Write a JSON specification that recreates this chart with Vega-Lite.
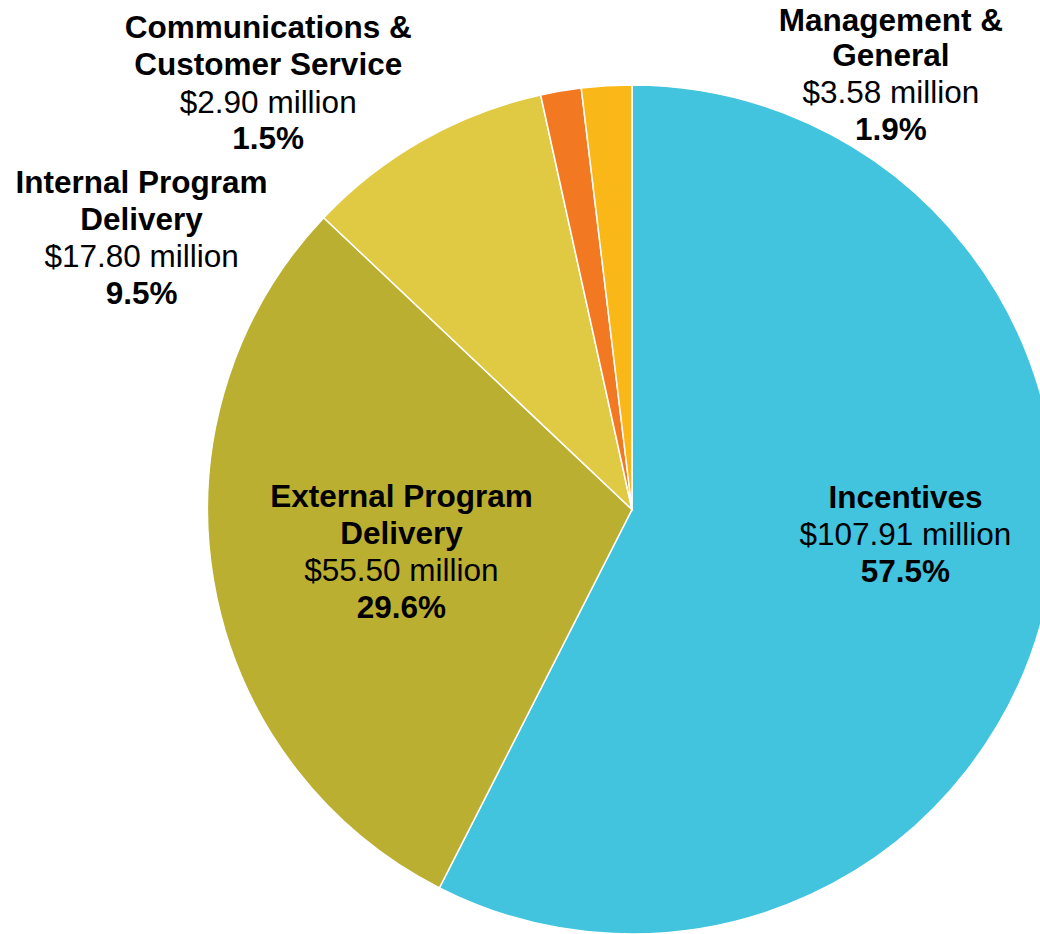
{
  "$schema": "https://vega.github.io/schema/vega-lite/v6.json",
  "autosize": "none",
  "padding": {"left": 224, "top": 85, "right": 0, "bottom": 0},
  "width": 816,
  "height": 849,
  "background": "white",
  "data": {
    "values": [
      {"category": "Incentives", "name": ["Incentives"], "amount": "$107.91 million", "pct": "57.5%", "value": 107.91, "order": 1},
      {"category": "External Program Delivery", "name": ["External Program", "Delivery"], "amount": "$55.50 million", "pct": "29.6%", "value": 55.50, "order": 2},
      {"category": "Internal Program Delivery", "name": ["Internal Program", "Delivery"], "amount": "$17.80 million", "pct": "9.5%", "value": 17.80, "order": 3},
      {"category": "Communications & Customer Service", "name": ["Communications &", "Customer Service"], "amount": "$2.90 million", "pct": "1.5%", "value": 2.90, "order": 4},
      {"category": "Management & General", "name": ["Management &", "General"], "amount": "$3.58 million", "pct": "1.9%", "value": 3.58, "order": 5}
    ]
  },
  "encoding": {
    "theta": {"field": "value", "type": "quantitative", "stack": true},
    "order": {"field": "order", "type": "quantitative", "sort": "ascending"}
  },
  "layer": [
    {
      "mark": {"type": "arc", "outerRadius": 424.5, "stroke": "white", "strokeWidth": 1.5},
      "encoding": {
        "color": {
          "field": "category", "type": "nominal", "legend": null,
          "scale": {
            "domain": ["Incentives", "External Program Delivery", "Internal Program Delivery", "Communications & Customer Service", "Management & General"],
            "range": ["#42C4DE", "#BBAF31", "#E1CA43", "#F37822", "#FAB718"]
          }
        }
      }
    },
    {"mark": {"type": "text", "radius": 275, "dx": 6, "dy": -66, "fontWeight": "bold"},
     "encoding": {"text": {"condition": {"test": "datum.category === 'Incentives'", "field": "name"}, "value": ""}}},
    {"mark": {"type": "text", "radius": 275, "dx": 6, "dy": -29},
     "encoding": {"text": {"condition": {"test": "datum.category === 'Incentives'", "field": "amount"}, "value": ""}}},
    {"mark": {"type": "text", "radius": 275, "dx": 6, "dy": 8, "fontWeight": "bold"},
     "encoding": {"text": {"condition": {"test": "datum.category === 'Incentives'", "field": "pct"}, "value": ""}}},

    {"mark": {"type": "text", "radius": 235, "dx": 1, "dy": -42, "fontWeight": "bold"},
     "encoding": {"text": {"condition": {"test": "datum.category === 'External Program Delivery'", "field": "name"}, "value": ""}}},
    {"mark": {"type": "text", "radius": 235, "dx": 1, "dy": 32},
     "encoding": {"text": {"condition": {"test": "datum.category === 'External Program Delivery'", "field": "amount"}, "value": ""}}},
    {"mark": {"type": "text", "radius": 235, "dx": 1, "dy": 69, "fontWeight": "bold"},
     "encoding": {"text": {"condition": {"test": "datum.category === 'External Program Delivery'", "field": "pct"}, "value": ""}}},

    {"mark": {"type": "text", "radius": 470, "dx": -259, "dy": 93, "fontWeight": "bold"},
     "encoding": {"text": {"condition": {"test": "datum.category === 'Internal Program Delivery'", "field": "name"}, "value": ""}}},
    {"mark": {"type": "text", "radius": 470, "dx": -259, "dy": 167},
     "encoding": {"text": {"condition": {"test": "datum.category === 'Internal Program Delivery'", "field": "amount"}, "value": ""}}},
    {"mark": {"type": "text", "radius": 470, "dx": -259, "dy": 204, "fontWeight": "bold"},
     "encoding": {"text": {"condition": {"test": "datum.category === 'Internal Program Delivery'", "field": "pct"}, "value": ""}}},

    {"mark": {"type": "text", "radius": 470, "dx": -285, "dy": -8, "fontWeight": "bold"},
     "encoding": {"text": {"condition": {"test": "datum.category === 'Communications & Customer Service'", "field": "name"}, "value": ""}}},
    {"mark": {"type": "text", "radius": 470, "dx": -285, "dy": 67},
     "encoding": {"text": {"condition": {"test": "datum.category === 'Communications & Customer Service'", "field": "amount"}, "value": ""}}},
    {"mark": {"type": "text", "radius": 470, "dx": -285, "dy": 103, "fontWeight": "bold"},
     "encoding": {"text": {"condition": {"test": "datum.category === 'Communications & Customer Service'", "field": "pct"}, "value": ""}}},

    {"mark": {"type": "text", "radius": 470, "dx": 287, "dy": -9, "fontWeight": "bold", "lineHeight": 35},
     "encoding": {"text": {"condition": {"test": "datum.category === 'Management & General'", "field": "name"}, "value": ""}}},
    {"mark": {"type": "text", "radius": 470, "dx": 287, "dy": 63},
     "encoding": {"text": {"condition": {"test": "datum.category === 'Management & General'", "field": "amount"}, "value": ""}}},
    {"mark": {"type": "text", "radius": 470, "dx": 287, "dy": 100, "fontWeight": "bold"},
     "encoding": {"text": {"condition": {"test": "datum.category === 'Management & General'", "field": "pct"}, "value": ""}}}
  ],
  "config": {
    "view": {"stroke": null},
    "text": {"font": "Liberation Sans", "fontSize": 31.5, "lineHeight": 37, "baseline": "alphabetic", "align": "center", "color": "black"}
  }
}
